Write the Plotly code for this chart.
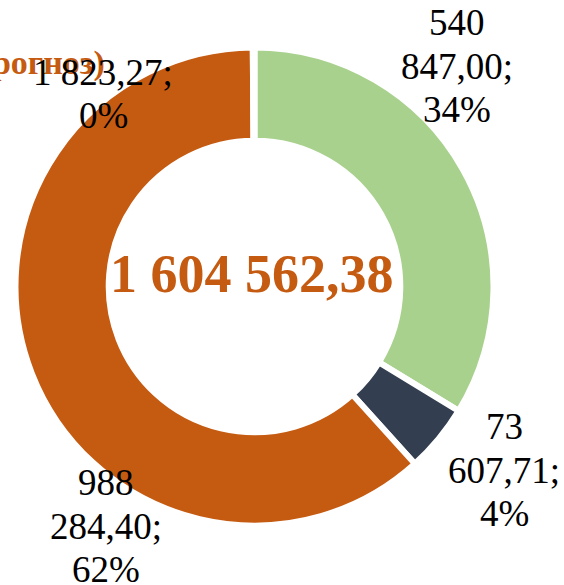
import plotly.graph_objects as go

# ---- data ----
categories = ["Категория 1", "Категория 2", "Категория 3", "Категория 4"]
values = [540847.00, 73607.71, 988284.40, 1823.27]
percent_labels = ["34%", "4%", "62%", "0%"]
colors = ["#A9D18E", "#333F50", "#C55A11", "#7F7F7F"]
total_label = "1 604 562,38"
title_text = "(прогноз)"

W, H = 564, 585
CX, CY, R = 254.5, 286.5, 239.0


def fmt(v):
    s = f"{v:,.2f}"
    return s.replace(",", " ").replace(".", ",")


# label line splitting (wrapping as in the reference)
wrap_first_space = [True, True, True, False]
label_centers = [(457, 66), (504, 470), (106, 526), (103, 94)]
line_gap = 43.5


def px(x):
    return x / W


def py(y):
    return 1 - y / H


fig = go.Figure()
fig.add_trace(go.Pie(
    labels=categories,
    values=values,
    hole=0.61,
    sort=False,
    direction="clockwise",
    rotation=0,
    marker=dict(colors=colors, line=dict(color="white", width=6)),
    textinfo="none",
    hoverinfo="label+value+percent",
    showlegend=False,
    domain=dict(x=[px(CX - R), px(CX + R)], y=[py(CY + R), py(CY - R)]),
))

annotations = []
for i, v in enumerate(values):
    s = fmt(v) + ";"
    if wrap_first_space[i]:
        a, b = s.split(" ", 1)
        lines = [a, b, percent_labels[i]]
    else:
        lines = [s, percent_labels[i]]
    cx, cy = label_centers[i]
    n = len(lines)
    for j, t in enumerate(lines):
        ly = cy + (j - (n - 1) / 2) * line_gap
        annotations.append(dict(
            x=px(cx), y=py(ly), xref="paper", yref="paper",
            text=t, showarrow=False, xanchor="center", yanchor="middle",
            font=dict(family="Liberation Serif", size=37, color="black"),
        ))

annotations.append(dict(
    x=px(251.5), y=py(274), xref="paper", yref="paper",
    text=f"<b>{total_label}</b>", showarrow=False,
    xanchor="center", yanchor="middle",
    font=dict(family="Liberation Serif", size=54, color="#C55A11"),
))

annotations.insert(0, dict(
    x=px(107), y=py(63), xref="paper", yref="paper",
    text=f"<b>{title_text}</b>", showarrow=False,
    xanchor="right", yanchor="middle",
    font=dict(family="Liberation Serif", size=34, color="#C55A11"),
))

fig.update_layout(
    width=W, height=H,
    margin=dict(l=0, r=0, t=0, b=0),
    paper_bgcolor="white",
    plot_bgcolor="white",
    annotations=annotations,
)

fig.write_html(
    "out.html",
    config={"displayModeBar": False},
    post_script="document.body.style.margin='0px';document.body.style.padding='0px';",
)
